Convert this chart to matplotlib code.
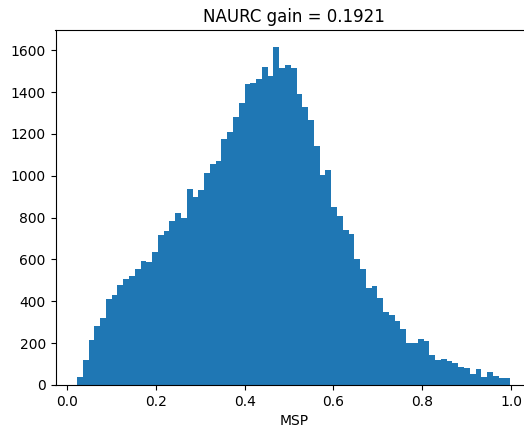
import numpy as np
import matplotlib
matplotlib.use("Agg")
import matplotlib.pyplot as plt

# histogram range and counts (75 bins)
msp_min = 0.0225
msp_max = 0.998
counts = [38, 121, 217, 280, 318, 413, 429, 476, 505, 522,
          555, 595, 586, 634, 715, 734, 783, 821, 797, 936,
          898, 931, 1013, 1056, 1070, 1178, 1210, 1280, 1349, 1439,
          1444, 1463, 1520, 1477, 1616, 1516, 1530, 1516, 1391, 1330,
          1266, 1142, 1003, 1027, 850, 806, 739, 722, 600, 555,
          466, 471, 414, 347, 337, 304, 270, 203, 203, 222,
          212, 145, 121, 126, 116, 107, 88, 83, 54, 78,
          40, 64, 45, 35, 35]
title = "NAURC gain = 0.1921"

edges = np.linspace(msp_min, msp_max, len(counts) + 1)
centers = (edges[:-1] + edges[1:]) / 2

fig = plt.figure(figsize=(5.24, 4.28), dpi=100)
ax = fig.add_axes([55.5 / 524, 1 - 385 / 428, (532 - 55.5) / 524, (385 - 30) / 428])
ax.hist(centers, bins=edges, weights=counts, color="#1f77b4")
ax.set_xlim(-0.026, 1.047)
ax.set_ylim(0, 1697)
ax.set_xticks([0.0, 0.2, 0.4, 0.6, 0.8, 1.0])
ax.set_xlabel("MSP")
ax.set_title(title)

fig.savefig("out.png", dpi=100)
